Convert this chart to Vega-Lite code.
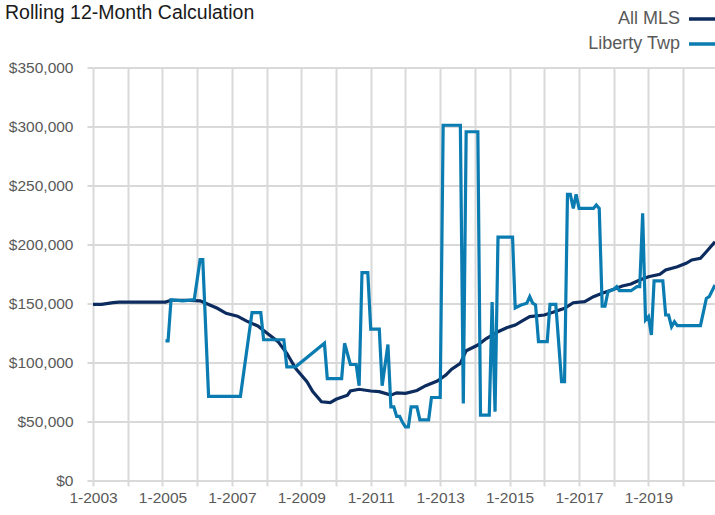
{
  "$schema": "https://vega.github.io/schema/vega-lite/v6.json",
  "width": 622,
  "height": 412.5,
  "autosize": {"type": "none"},
  "padding": {"left": 93, "top": 67.5, "right": 0, "bottom": 35},
  "background": "#ffffff",
  "config": {"view": {"stroke": null}, "font": "Liberation Sans"},
  "title": {
    "text": "Rolling 12-Month Calculation",
    "anchor": "start",
    "frame": "group",
    "orient": "top",
    "baseline": "alphabetic",
    "font": "Liberation Sans",
    "fontSize": 19.5,
    "fontWeight": "normal",
    "color": "#1a1a1a",
    "dx": -88,
    "offset": 0,
    "dy": 35
  },
  "data": {
    "values": [
      {"series": "All MLS", "date": "2003-01-01", "value": 149000},
      {"series": "All MLS", "date": "2003-04-01", "value": 149000},
      {"series": "All MLS", "date": "2003-08-01", "value": 150500},
      {"series": "All MLS", "date": "2003-10-01", "value": 151000},
      {"series": "All MLS", "date": "2004-06-01", "value": 151000},
      {"series": "All MLS", "date": "2005-02-01", "value": 151000},
      {"series": "All MLS", "date": "2005-04-01", "value": 152500},
      {"series": "All MLS", "date": "2005-09-01", "value": 152500},
      {"series": "All MLS", "date": "2006-02-01", "value": 152000},
      {"series": "All MLS", "date": "2006-04-01", "value": 150000},
      {"series": "All MLS", "date": "2006-08-01", "value": 145700},
      {"series": "All MLS", "date": "2006-11-01", "value": 141400},
      {"series": "All MLS", "date": "2007-03-01", "value": 139000},
      {"series": "All MLS", "date": "2007-06-01", "value": 135000},
      {"series": "All MLS", "date": "2007-10-01", "value": 130700},
      {"series": "All MLS", "date": "2008-01-01", "value": 125000},
      {"series": "All MLS", "date": "2008-05-01", "value": 117400},
      {"series": "All MLS", "date": "2008-08-01", "value": 107500},
      {"series": "All MLS", "date": "2008-11-01", "value": 94800},
      {"series": "All MLS", "date": "2009-03-01", "value": 83400},
      {"series": "All MLS", "date": "2009-05-01", "value": 75000},
      {"series": "All MLS", "date": "2009-08-01", "value": 66400},
      {"series": "All MLS", "date": "2009-11-01", "value": 65600},
      {"series": "All MLS", "date": "2010-01-01", "value": 68500},
      {"series": "All MLS", "date": "2010-05-01", "value": 72000},
      {"series": "All MLS", "date": "2010-06-01", "value": 75500},
      {"series": "All MLS", "date": "2010-09-01", "value": 77000},
      {"series": "All MLS", "date": "2011-01-01", "value": 75500},
      {"series": "All MLS", "date": "2011-04-01", "value": 75000},
      {"series": "All MLS", "date": "2011-08-01", "value": 72000},
      {"series": "All MLS", "date": "2011-10-01", "value": 74000},
      {"series": "All MLS", "date": "2012-01-01", "value": 73500},
      {"series": "All MLS", "date": "2012-05-01", "value": 76000},
      {"series": "All MLS", "date": "2012-08-01", "value": 80000},
      {"series": "All MLS", "date": "2012-12-01", "value": 84000},
      {"series": "All MLS", "date": "2013-03-01", "value": 89000},
      {"series": "All MLS", "date": "2013-05-01", "value": 94000},
      {"series": "All MLS", "date": "2013-08-01", "value": 99000},
      {"series": "All MLS", "date": "2013-09-01", "value": 104600},
      {"series": "All MLS", "date": "2013-10-01", "value": 109700},
      {"series": "All MLS", "date": "2014-02-01", "value": 114500},
      {"series": "All MLS", "date": "2014-05-01", "value": 120000},
      {"series": "All MLS", "date": "2014-09-01", "value": 125800},
      {"series": "All MLS", "date": "2014-12-01", "value": 129200},
      {"series": "All MLS", "date": "2015-03-01", "value": 131500},
      {"series": "All MLS", "date": "2015-06-01", "value": 135800},
      {"series": "All MLS", "date": "2015-08-01", "value": 138600},
      {"series": "All MLS", "date": "2016-01-01", "value": 140000},
      {"series": "All MLS", "date": "2016-04-01", "value": 142300},
      {"series": "All MLS", "date": "2016-08-01", "value": 145700},
      {"series": "All MLS", "date": "2016-11-01", "value": 150400},
      {"series": "All MLS", "date": "2017-03-01", "value": 151300},
      {"series": "All MLS", "date": "2017-06-01", "value": 155500},
      {"series": "All MLS", "date": "2017-09-01", "value": 158400},
      {"series": "All MLS", "date": "2018-01-01", "value": 161800},
      {"series": "All MLS", "date": "2018-04-01", "value": 164600},
      {"series": "All MLS", "date": "2018-07-01", "value": 166300},
      {"series": "All MLS", "date": "2018-10-01", "value": 169700},
      {"series": "All MLS", "date": "2019-01-01", "value": 172500},
      {"series": "All MLS", "date": "2019-05-01", "value": 174500},
      {"series": "All MLS", "date": "2019-07-01", "value": 178200},
      {"series": "All MLS", "date": "2019-11-01", "value": 181000},
      {"series": "All MLS", "date": "2020-02-01", "value": 183900},
      {"series": "All MLS", "date": "2020-04-01", "value": 186700},
      {"series": "All MLS", "date": "2020-07-01", "value": 188100},
      {"series": "All MLS", "date": "2020-09-01", "value": 193700},
      {"series": "All MLS", "date": "2020-12-01", "value": 202200},
      {"series": "Liberty Twp", "date": "2005-02-01", "value": 118000},
      {"series": "Liberty Twp", "date": "2005-03-01", "value": 118000},
      {"series": "Liberty Twp", "date": "2005-04-01", "value": 153000},
      {"series": "Liberty Twp", "date": "2005-08-01", "value": 152000},
      {"series": "Liberty Twp", "date": "2005-12-01", "value": 153000},
      {"series": "Liberty Twp", "date": "2006-02-01", "value": 187000},
      {"series": "Liberty Twp", "date": "2006-03-01", "value": 187000},
      {"series": "Liberty Twp", "date": "2006-05-01", "value": 71000},
      {"series": "Liberty Twp", "date": "2007-04-01", "value": 71000},
      {"series": "Liberty Twp", "date": "2007-08-01", "value": 142000},
      {"series": "Liberty Twp", "date": "2007-11-01", "value": 142000},
      {"series": "Liberty Twp", "date": "2007-12-01", "value": 119000},
      {"series": "Liberty Twp", "date": "2008-07-01", "value": 119000},
      {"series": "Liberty Twp", "date": "2008-08-01", "value": 96000},
      {"series": "Liberty Twp", "date": "2008-11-01", "value": 96000},
      {"series": "Liberty Twp", "date": "2009-09-01", "value": 116000},
      {"series": "Liberty Twp", "date": "2009-10-01", "value": 86000},
      {"series": "Liberty Twp", "date": "2010-03-01", "value": 86000},
      {"series": "Liberty Twp", "date": "2010-04-01", "value": 116000},
      {"series": "Liberty Twp", "date": "2010-06-01", "value": 98000},
      {"series": "Liberty Twp", "date": "2010-08-01", "value": 98000},
      {"series": "Liberty Twp", "date": "2010-09-01", "value": 80000},
      {"series": "Liberty Twp", "date": "2010-10-01", "value": 176000},
      {"series": "Liberty Twp", "date": "2010-12-01", "value": 176000},
      {"series": "Liberty Twp", "date": "2011-01-01", "value": 128000},
      {"series": "Liberty Twp", "date": "2011-04-01", "value": 128000},
      {"series": "Liberty Twp", "date": "2011-05-01", "value": 80000},
      {"series": "Liberty Twp", "date": "2011-07-01", "value": 115000},
      {"series": "Liberty Twp", "date": "2011-08-01", "value": 62000},
      {"series": "Liberty Twp", "date": "2011-09-01", "value": 62000},
      {"series": "Liberty Twp", "date": "2011-10-01", "value": 54000},
      {"series": "Liberty Twp", "date": "2011-11-01", "value": 54000},
      {"series": "Liberty Twp", "date": "2011-12-01", "value": 49000},
      {"series": "Liberty Twp", "date": "2012-01-01", "value": 45000},
      {"series": "Liberty Twp", "date": "2012-02-01", "value": 45000},
      {"series": "Liberty Twp", "date": "2012-03-01", "value": 62000},
      {"series": "Liberty Twp", "date": "2012-05-01", "value": 62000},
      {"series": "Liberty Twp", "date": "2012-06-01", "value": 51000},
      {"series": "Liberty Twp", "date": "2012-09-01", "value": 51000},
      {"series": "Liberty Twp", "date": "2012-10-01", "value": 70000},
      {"series": "Liberty Twp", "date": "2013-01-01", "value": 70000},
      {"series": "Liberty Twp", "date": "2013-02-01", "value": 301000},
      {"series": "Liberty Twp", "date": "2013-08-01", "value": 301000},
      {"series": "Liberty Twp", "date": "2013-09-01", "value": 65000},
      {"series": "Liberty Twp", "date": "2013-10-01", "value": 295500},
      {"series": "Liberty Twp", "date": "2014-02-01", "value": 295500},
      {"series": "Liberty Twp", "date": "2014-03-01", "value": 55000},
      {"series": "Liberty Twp", "date": "2014-06-01", "value": 55000},
      {"series": "Liberty Twp", "date": "2014-07-01", "value": 151000},
      {"series": "Liberty Twp", "date": "2014-08-01", "value": 58000},
      {"series": "Liberty Twp", "date": "2014-09-01", "value": 206000},
      {"series": "Liberty Twp", "date": "2015-02-01", "value": 206000},
      {"series": "Liberty Twp", "date": "2015-03-01", "value": 146000},
      {"series": "Liberty Twp", "date": "2015-05-01", "value": 148500},
      {"series": "Liberty Twp", "date": "2015-07-01", "value": 150000},
      {"series": "Liberty Twp", "date": "2015-08-01", "value": 155500},
      {"series": "Liberty Twp", "date": "2015-09-01", "value": 150000},
      {"series": "Liberty Twp", "date": "2015-10-01", "value": 148500},
      {"series": "Liberty Twp", "date": "2015-11-01", "value": 117400},
      {"series": "Liberty Twp", "date": "2016-02-01", "value": 117400},
      {"series": "Liberty Twp", "date": "2016-03-01", "value": 149000},
      {"series": "Liberty Twp", "date": "2016-05-01", "value": 149000},
      {"series": "Liberty Twp", "date": "2016-07-01", "value": 83400},
      {"series": "Liberty Twp", "date": "2016-08-01", "value": 83400},
      {"series": "Liberty Twp", "date": "2016-09-01", "value": 242400},
      {"series": "Liberty Twp", "date": "2016-10-01", "value": 242400},
      {"series": "Liberty Twp", "date": "2016-11-01", "value": 230400},
      {"series": "Liberty Twp", "date": "2016-12-01", "value": 242400},
      {"series": "Liberty Twp", "date": "2017-01-01", "value": 230400},
      {"series": "Liberty Twp", "date": "2017-06-01", "value": 230400},
      {"series": "Liberty Twp", "date": "2017-07-01", "value": 233300},
      {"series": "Liberty Twp", "date": "2017-08-01", "value": 230400},
      {"series": "Liberty Twp", "date": "2017-09-01", "value": 147600},
      {"series": "Liberty Twp", "date": "2017-10-01", "value": 147600},
      {"series": "Liberty Twp", "date": "2017-11-01", "value": 159800},
      {"series": "Liberty Twp", "date": "2018-01-01", "value": 161800},
      {"series": "Liberty Twp", "date": "2018-02-01", "value": 164000},
      {"series": "Liberty Twp", "date": "2018-03-01", "value": 160600},
      {"series": "Liberty Twp", "date": "2018-07-01", "value": 160600},
      {"series": "Liberty Twp", "date": "2018-09-01", "value": 164000},
      {"series": "Liberty Twp", "date": "2018-10-01", "value": 164000},
      {"series": "Liberty Twp", "date": "2018-11-01", "value": 226300},
      {"series": "Liberty Twp", "date": "2018-12-01", "value": 135800},
      {"series": "Liberty Twp", "date": "2019-01-01", "value": 138600},
      {"series": "Liberty Twp", "date": "2019-02-01", "value": 123000},
      {"series": "Liberty Twp", "date": "2019-03-01", "value": 169000},
      {"series": "Liberty Twp", "date": "2019-06-01", "value": 169000},
      {"series": "Liberty Twp", "date": "2019-07-01", "value": 140000},
      {"series": "Liberty Twp", "date": "2019-08-01", "value": 140000},
      {"series": "Liberty Twp", "date": "2019-09-01", "value": 130000},
      {"series": "Liberty Twp", "date": "2019-10-01", "value": 134300},
      {"series": "Liberty Twp", "date": "2019-11-01", "value": 131000},
      {"series": "Liberty Twp", "date": "2020-07-01", "value": 131000},
      {"series": "Liberty Twp", "date": "2020-09-01", "value": 154000},
      {"series": "Liberty Twp", "date": "2020-10-01", "value": 155500},
      {"series": "Liberty Twp", "date": "2020-12-01", "value": 165500}
    ]
  },
  "mark": {"type": "line", "strokeWidth": 3.2, "strokeJoin": "miter", "strokeMiterLimit": 4},
  "encoding": {
    "x": {
      "field": "date",
      "type": "temporal",
      "scale": {"type": "utc", "domain": [{"year": 2003, "month": 1, "date": 1, "utc": true}, {"year": 2020, "month": 12, "date": 1, "utc": true}]},
      "axis": {
        "title": null,
        "tickCount": {"interval": "year", "step": 1},
        "labelExpr": "utcyear(datum.value) % 2 == 1 ? '1-' + utcyear(datum.value) : ''",
        "labelFont": "Liberation Sans",
        "labelFontSize": 15.5,
        "labelColor": "#595959",
        "labelPadding": 4,
        "labelFlush": false,
        "labelOverlap": false,
        "domain": false,
        "grid": true,
        "gridColor": "#d9d9d9",
        "gridWidth": 2,
        "ticks": true,
        "tickColor": "#d9d9d9",
        "tickWidth": 2,
        "tickSize": 6
      }
    },
    "y": {
      "field": "value",
      "type": "quantitative",
      "scale": {"domain": [0, 350000], "nice": false},
      "axis": {
        "title": null,
        "values": [0, 50000, 100000, 150000, 200000, 250000, 300000, 350000],
        "format": "$,.0f",
        "labelFont": "Liberation Sans",
        "labelFontSize": 15.5,
        "labelColor": "#595959",
        "labelPadding": 14,
        "domain": false,
        "grid": true,
        "gridColor": "#d9d9d9",
        "gridWidth": 2,
        "ticks": true,
        "tickColor": "#d9d9d9",
        "tickWidth": 2,
        "tickSize": 6
      }
    },
    "color": {
      "field": "series",
      "type": "nominal",
      "scale": {"domain": ["All MLS", "Liberty Twp"], "range": ["#0c2b5e", "#0a7cb1"]},
      "legend": {
        "title": null,
        "orient": "none",
        "legendX": 594,
        "legendY": -64,
        "direction": "vertical",
        "symbolType": "stroke",
        "symbolSize": 729,
        "symbolStrokeWidth": 3.5,
        "labelAlign": "right",
        "labelOffset": -38,
        "labelFont": "Liberation Sans",
        "labelFontSize": 18,
        "labelColor": "#595959",
        "labelLimit": 0,
        "rowPadding": 0
      }
    }
  }
}
